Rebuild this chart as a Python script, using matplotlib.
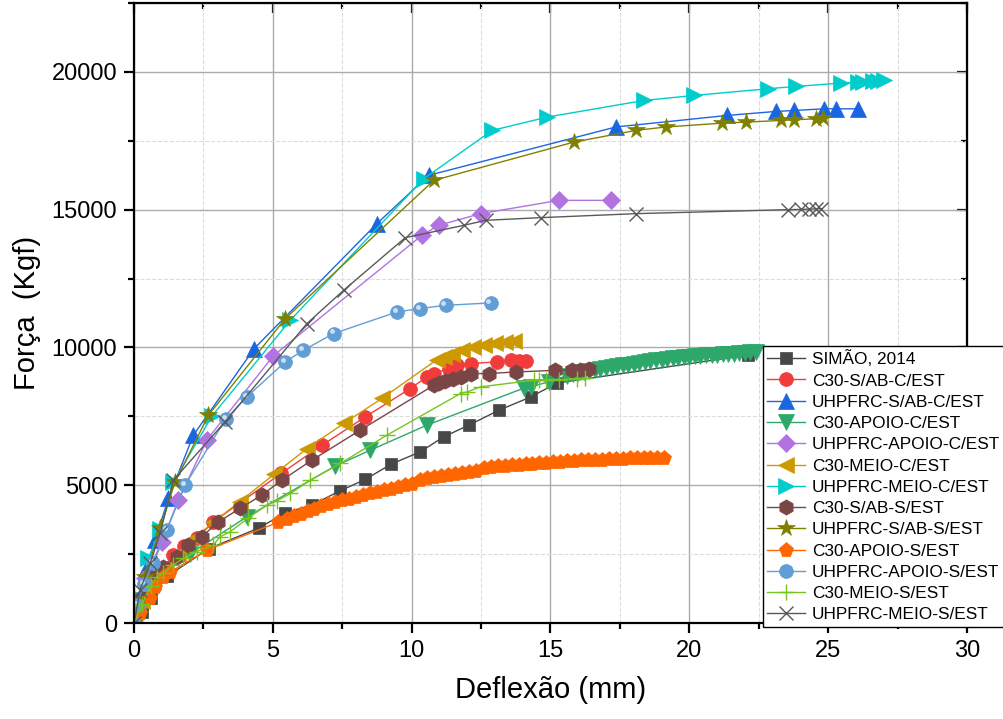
import matplotlib
matplotlib.use('Agg')
import matplotlib.pyplot as plt
from matplotlib.ticker import MultipleLocator
from matplotlib.transforms import offset_copy

plt.rcParams['font.family'] = ['Liberation Sans', 'DejaVu Sans']

# ---- dados (deflexao em mm, forca em kgf) ----
simao_x = [0, 0.3, 0.6, 1.2, 2.7, 4.5, 5.45, 6.4, 7.43, 8.33, 9.26, 10.31, 11.15, 12.06, 13.14, 14.28, 15.24, 22.1]
simao_y = [0, 400, 900, 1700, 2700, 3450, 4000, 4280, 4800, 5210, 5765, 6210, 6755, 7180, 7720, 8200, 8710, 9720]

c30_sab_c_x = [0, 0.3, 0.7, 1.0, 1.4, 1.8, 2.26, 2.86, 5.3, 6.77, 8.33, 9.95, 10.55, 10.8, 11.33, 11.64, 12.12, 13.08, 13.56, 13.85, 14.1]
c30_sab_c_y = [0, 800, 1500, 1950, 2450, 2800, 3070, 3670, 5430, 6450, 7480, 8510, 8930, 9050, 9235, 9356, 9417, 9477, 9537, 9520, 9510]

uh_sab_c_x = [0, 0.2, 0.46, 0.76, 1.24, 2.14, 4.33, 8.75, 10.61, 17.35, 21.37, 23.12, 23.78, 24.86, 25.28, 26.06]
uh_sab_c_y = [0, 900, 2040, 3010, 4520, 6820, 9960, 14493, 16245, 18000, 18420, 18565, 18600, 18660, 18660, 18660]

c30_apoio_c_x = [0, 0.3, 0.7, 1.2, 2.0, 4.06, 7.25, 8.51, 10.55, 14.03, 14.28, 14.93,
                 15.6, 15.8, 16.0, 16.2, 16.4, 16.6, 16.8, 17.0, 17.2, 17.4, 17.6, 17.8, 18.0,
                 18.2, 18.4, 18.6, 18.8, 19.0, 19.2, 19.4, 19.6, 19.8, 20.0, 20.2, 20.4, 20.6,
                 20.8, 21.0, 21.2, 21.4, 21.6, 21.8, 22.0, 22.2, 22.4]
c30_apoio_c_y = [0, 500, 1300, 1900, 2500, 3850, 5700, 6270, 7180, 8520, 8570, 8750,
                 8980, 9020, 9060, 9100, 9140, 9180, 9210, 9250, 9280, 9320, 9350, 9380, 9410,
                 9440, 9470, 9500, 9530, 9560, 9580, 9600, 9620, 9640, 9660, 9680, 9690, 9710,
                 9720, 9740, 9750, 9770, 9780, 9800, 9810, 9830, 9850]

uh_apoio_c_x = [0, 0.15, 0.4, 1.0, 1.6, 2.62, 5.02, 10.37, 10.97, 12.48, 15.3, 17.17]
uh_apoio_c_y = [0, 600, 1650, 2950, 4460, 6636, 9700, 14069, 14432, 14855, 15338, 15338]

c30_meio_c_x = [0, 0.3, 0.7, 1.1, 1.6, 2.2, 2.85, 3.8, 5.05, 6.23, 7.55, 8.93, 10.9, 11.15, 11.45, 11.8, 12.2, 12.6, 13.0, 13.35, 13.68]
c30_meio_c_y = [0, 800, 1500, 2000, 2500, 3100, 3650, 4400, 5400, 6330, 7240, 8150, 9550, 9650, 9780, 9900, 10000, 10080, 10150, 10200, 10220]

uh_meio_c_x = [0, 0.2, 0.52, 0.94, 1.42, 2.8, 5.63, 10.43, 12.9, 14.88, 18.37, 20.17, 22.82, 23.84, 25.46, 26.06, 26.24, 26.6, 26.78, 27.02]
uh_meio_c_y = [0, 900, 2345, 3400, 5100, 7500, 10990, 16120, 17876, 18360, 18964, 19145, 19388, 19472, 19593, 19630, 19640, 19653, 19660, 19690]

c30_sab_s_x = [0, 0.3, 0.76, 1.06, 1.54, 1.95, 2.44, 3.04, 3.82, 4.6, 5.33, 6.41, 8.15, 10.8, 11.0, 11.2, 11.5, 11.76, 12.12, 12.78, 13.74, 15.18, 15.78, 16.08, 16.38]
c30_sab_s_y = [0, 900, 1800, 2040, 2400, 2830, 3130, 3670, 4160, 4640, 5185, 5910, 7000, 8630, 8720, 8800, 8870, 8930, 9050, 9054, 9110, 9170, 9180, 9190, 9200]

uh_sab_s_x = [0, 0.15, 0.4, 0.94, 1.48, 2.68, 5.45, 10.8, 15.84, 18.07, 19.15, 21.19, 22.03, 23.3, 23.78, 24.56, 24.83]
uh_sab_s_y = [0, 700, 1680, 3430, 5120, 7540, 11050, 16063, 17452, 17876, 18000, 18141, 18177, 18238, 18262, 18298, 18335]

c30_apoio_s_x = [0, 0.22, 0.58, 0.76, 1.05, 1.3, 2.63, 5.2,
                 5.5, 5.75, 6.0, 6.25, 6.5, 6.75, 7.0, 7.25, 7.5, 7.75, 8.0, 8.25, 8.5, 8.75,
                 9.0, 9.25, 9.5, 9.75, 10.0, 10.3, 10.55, 10.8, 11.05, 11.3, 11.55, 11.8, 12.05,
                 12.3, 12.6, 12.85, 13.1, 13.35, 13.6, 13.85, 14.1, 14.35, 14.6, 14.85, 15.1,
                 15.35, 15.6, 15.85, 16.1, 16.35, 16.6, 16.85, 17.1, 17.35, 17.6, 17.85, 18.1,
                 18.35, 18.6, 18.85, 19.1]
c30_apoio_s_y = [0, 363, 906, 1305, 1668, 1850, 2647, 3660,
                 3770, 3870, 3970, 4060, 4150, 4240, 4320, 4390, 4450, 4510, 4570, 4630, 4700, 4760,
                 4820, 4880, 4940, 4990, 5050, 5200, 5250, 5290, 5330, 5370, 5410, 5440, 5480,
                 5510, 5640, 5660, 5680, 5700, 5720, 5740, 5760, 5780, 5800, 5820, 5840,
                 5850, 5870, 5880, 5900, 5910, 5920, 5930, 5940, 5950, 5960, 5970, 5975,
                 5985, 5990, 5995, 6000]

uh_apoio_s_x = [0, 0.1, 0.35, 0.7, 1.18, 1.84, 3.3, 4.06, 5.45, 6.1, 7.19, 9.47, 10.29, 11.22, 12.84]
uh_apoio_s_y = [0, 650, 1400, 2165, 3372, 5004, 7400, 8206, 9477, 9900, 10505, 11288, 11410, 11530, 11615]

c30_meio_s_x = [0, 0.3, 0.6, 0.82, 1.06, 1.4, 1.78, 2.26, 2.86, 3.1, 3.46, 4.1, 4.79, 5.15, 5.63, 6.35, 7.43, 9.11, 11.76, 12.0, 12.48, 14.4, 14.57, 14.82, 15.3, 15.96, 16.26]
c30_meio_s_y = [0, 700, 1350, 1680, 1800, 2100, 2345, 2590, 2830, 3130, 3310, 3800, 4280, 4430, 4700, 5185, 5790, 6817, 8328, 8388, 8570, 8811, 8820, 8830, 8836, 8872, 8880]

uh_meio_s_x = [0, 0.22, 0.58, 0.94, 1.42, 3.28, 6.23, 7.55, 9.77, 11.88, 12.66, 14.64, 18.07, 23.54, 24.02, 24.32, 24.56, 24.74]
uh_meio_s_y = [0, 1200, 2165, 3250, 5185, 7300, 10868, 12075, 13984, 14432, 14613, 14710, 14855, 15000, 15010, 15020, 15030, 15037]

series = [
    ('SIMÃO, 2014', simao_x, simao_y, '#474747', 's', 8.5),
    ('C30-S/AB-C/EST', c30_sab_c_x, c30_sab_c_y, '#f23c3c', 'o', 10),
    ('UHPFRC-S/AB-C/EST', uh_sab_c_x, uh_sab_c_y, '#1a66e0', '^', 11),
    ('C30-APOIO-C/EST', c30_apoio_c_x, c30_apoio_c_y, '#2ea86a', 'v', 11),
    ('UHPFRC-APOIO-C/EST', uh_apoio_c_x, uh_apoio_c_y, '#b273e0', 'D', 9),
    ('C30-MEIO-C/EST', c30_meio_c_x, c30_meio_c_y, '#cc9900', '<', 11),
    ('UHPFRC-MEIO-C/EST', uh_meio_c_x, uh_meio_c_y, '#00cccc', '>', 11),
    ('C30-S/AB-S/EST', c30_sab_s_x, c30_sab_s_y, '#7a4545', 'h', 11),
    ('UHPFRC-S/AB-S/EST', uh_sab_s_x, uh_sab_s_y, '#808000', '*', 13),
    ('C30-APOIO-S/EST', c30_apoio_s_x, c30_apoio_s_y, '#ff6600', 'p', 11),
    ('UHPFRC-APOIO-S/EST', uh_apoio_s_x, uh_apoio_s_y, '#629ed6', 'o', 10),
    ('C30-MEIO-S/EST', c30_meio_s_x, c30_meio_s_y, '#78c41e', '+', 11),
    ('UHPFRC-MEIO-S/EST', uh_meio_s_x, uh_meio_s_y, '#595959', 'x', 10),
]

fig = plt.figure(figsize=(10.04, 7.19), dpi=100)
ax = fig.add_axes([134 / 1004, 96 / 719, 833 / 1004, 620 / 719])

for nome, xs, ys, cor, mk, ms in series:
    ax.plot(xs, ys, color=cor, marker=mk, markersize=ms, linewidth=1,
            markeredgewidth=1 if mk in '+x' else 0.5, markeredgecolor=cor,
            label=nome)
    if nome == 'UHPFRC-APOIO-S/EST':
        # brilho das esferas, deslocado para cima/esquerda
        brilho = offset_copy(ax.transData, fig=fig, x=-1.5, y=1.5, units='points')
        ax.plot(xs, ys, linestyle='none', marker='o', markersize=3.5, transform=brilho,
                markerfacecolor='#eef5fc', markeredgewidth=0, alpha=0.75)

ax.set_xlim(0, 30)
ax.set_ylim(0, 22500)
ax.xaxis.set_major_locator(MultipleLocator(5))
ax.xaxis.set_minor_locator(MultipleLocator(2.5))
ax.yaxis.set_major_locator(MultipleLocator(5000))
ax.yaxis.set_minor_locator(MultipleLocator(2500))

ax.grid(True, which='major', color='#ababab', linewidth=1)
ax.grid(True, which='minor', color='#dcdcdc', linewidth=0.8, linestyle='--')
ax.set_axisbelow(True)

for s in ax.spines.values():
    s.set_linewidth(1.6)
ax.tick_params(which='major', direction='out', length=7, width=1.6, labelsize=17, pad=5)
ax.tick_params(which='minor', direction='out', length=4, width=1.6)

# ticks para dentro no topo e na direita
topo = ax.secondary_xaxis('top')
topo.xaxis.set_major_locator(MultipleLocator(5))
topo.xaxis.set_minor_locator(MultipleLocator(2.5))
topo.tick_params(which='major', direction='in', length=7, width=1.6, labeltop=False)
topo.tick_params(which='minor', direction='in', length=4, width=1.6)
dir_ = ax.secondary_yaxis('right')
dir_.yaxis.set_major_locator(MultipleLocator(5000))
dir_.yaxis.set_minor_locator(MultipleLocator(2500))
dir_.tick_params(which='major', direction='in', length=7, width=1.6, labelright=False)
dir_.tick_params(which='minor', direction='in', length=4, width=1.6)

ax.set_xlabel('Deflexão (mm)', fontsize=21, labelpad=10)
ax.set_ylabel('Força  (Kgf)', fontsize=21, labelpad=8)

leg = ax.legend(loc='upper left', bbox_to_anchor=(763 / 1004, 1 - 346 / 719),
                bbox_transform=fig.transFigure, fontsize=12.4, frameon=True,
                fancybox=False, edgecolor='black', framealpha=1, borderaxespad=0,
                borderpad=0.25, labelspacing=0.36, handlelength=2.2, handletextpad=0.4,
                markerscale=1.0)
leg.get_frame().set_linewidth(1)

plt.savefig('out.png', dpi=100)
